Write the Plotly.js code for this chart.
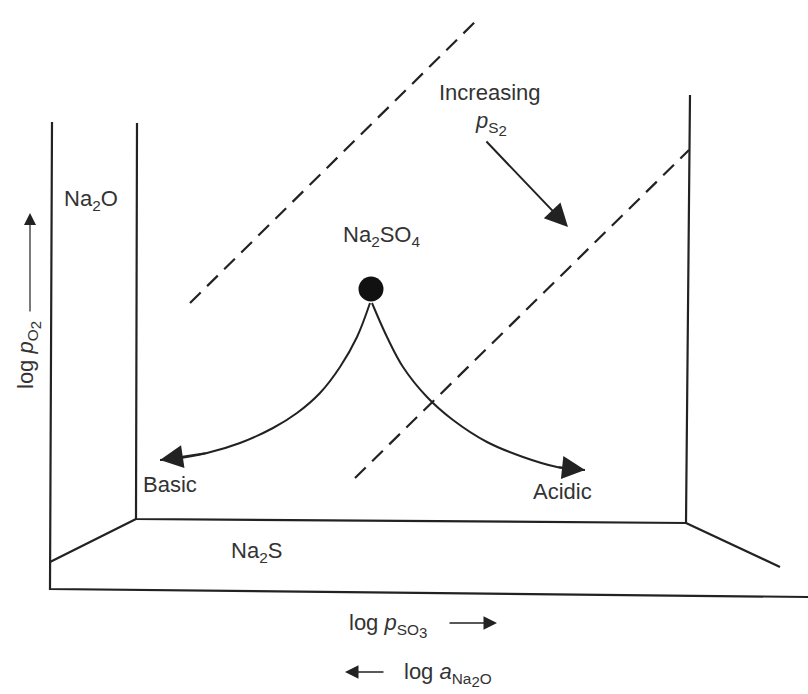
<!DOCTYPE html>
<html>
<head>
<meta charset="utf-8">
<script src="https://cdn.plot.ly/plotly-3.0.1.min.js"></script>
<style>html,body{margin:0;padding:0;background:#fff;}#chart{width:808px;height:694px;}</style>
</head>
<body>
<div id="chart"></div>
<script>
// Diagram geometry (pixel-like units of the figure)
const outerFrameX = [52, 50, 808];
const outerFrameY = [122, 589, 597];
const innerFrameX = [137, 136, 686, 690];
const innerFrameY = [123, 519, 523, 95];
const diagonalsX = [50, 136, null, 686, 780];
const diagonalsY = [562, 519, null, 523, 567];
const dashUpperX = [190, 480];
const dashUpperY = [303, 17];
const dashLowerX = [355, 689];
const dashLowerY = [478, 150];
const dotX = [371];
const dotY = [289];
const basicCurveX = [370, 357, 340, 320, 297, 273, 240, 207, 173, 160];
const basicCurveY = [303, 337, 367, 393, 413, 428, 443, 453, 459, 460];
const acidCurveX = [372, 387, 403, 427, 453, 487, 523, 557, 585];
const acidCurveY = [303, 337, 367, 397, 420, 442, 457, 467, 470];
const ps2ArrowX = [485, 568];
const ps2ArrowY = [140, 227];

const sub2 = '<sub><span style="font-size:15px">2</span></sub>';
const sub3 = '<sub><span style="font-size:15px">3</span></sub>';
const labelTexts = ['Na<sub>2</sub>O', 'Na<sub>2</sub>SO<sub>4</sub>', 'Increasing', '<i>p</i><sub>S' + sub2 + '</sub>',
  'Basic', 'Acidic', 'Na<sub>2</sub>S', 'log <i>p</i><sub>SO' + sub3 + '</sub>', 'log <i>a</i><sub>Na' + sub2 + 'O</sub>'];
const labelX = [91, 381, 490, 491, 170, 562, 256, 388, 448];
const labelY = [200, 236, 92, 123, 484, 491, 552, 625, 674];

const ink = '#222';
const txt = '#333';
const font = {family: 'Liberation Sans, Arial, sans-serif', size: 22, color: txt};

const traces = [
  {x: outerFrameX, y: outerFrameY, mode: 'lines', line: {color: ink, width: 2.2}},
  {x: innerFrameX, y: innerFrameY, mode: 'lines', line: {color: ink, width: 2.2}},
  {x: diagonalsX, y: diagonalsY, mode: 'lines', line: {color: ink, width: 2.2}, connectgaps: false},
  {x: dashUpperX, y: dashUpperY, mode: 'lines', line: {color: ink, width: 2.2, dash: '15px,9px'}},
  {x: dashLowerX, y: dashLowerY, mode: 'lines', line: {color: ink, width: 2.2, dash: '15px,9px'}},
  {x: basicCurveX, y: basicCurveY, mode: 'lines', line: {color: ink, width: 2, shape: 'spline', smoothing: 1}},
  {x: acidCurveX, y: acidCurveY, mode: 'lines', line: {color: ink, width: 2, shape: 'spline', smoothing: 1}},
  {x: dotX, y: dotY, mode: 'markers', marker: {color: '#111', size: 25}}
];

const annotations = labelTexts.map((t, i) => ({
  x: labelX[i], y: labelY[i], xref: 'x', yref: 'y', text: t, showarrow: false,
  font: font, xanchor: 'center', yanchor: 'middle'
}));

// y-axis label
annotations.push({x: 28, y: 355, xref: 'x', yref: 'y', text: 'log <i>p</i><sub>O' + sub2 + '</sub>',
  textangle: -90, showarrow: false, font: font, xanchor: 'center', yanchor: 'middle'});

function arrow(x0, y0, x1, y1, w, s) {
  return {x: x1, y: y1, ax: x0, ay: y0, xref: 'x', yref: 'y', axref: 'x', ayref: 'y',
    text: '', showarrow: true, arrowhead: 2, arrowwidth: w, arrowsize: s, arrowcolor: ink};
}
// curve arrowheads (short tails along curve tangent)
annotations.push(arrow(basicCurveX[7], basicCurveY[7], basicCurveX[9], basicCurveY[9], 2, 2.3));
annotations.push(arrow(acidCurveX[7], acidCurveY[7], acidCurveX[8], acidCurveY[8], 2, 2.3));
// increasing p_S2 arrow
annotations.push(arrow(ps2ArrowX[0], ps2ArrowY[0], ps2ArrowX[1], ps2ArrowY[1], 2, 2.3));
// axis direction arrows
annotations.push(arrow(30, 313, 30, 213, 1.2, 2));
annotations.push(arrow(448, 623, 497, 623, 1.5, 1.8));
annotations.push(arrow(385, 672, 345, 672, 1.5, 1.8));

const layout = {
  width: 808, height: 694,
  margin: {l: 0, r: 0, t: 0, b: 0},
  paper_bgcolor: '#fff', plot_bgcolor: '#fff',
  showlegend: false,
  xaxis: {range: [0, 808], visible: false, fixedrange: true},
  yaxis: {range: [694, 0], visible: false, fixedrange: true},
  annotations: annotations
};

Plotly.newPlot('chart', traces, layout, {staticPlot: true, displayModeBar: false});
</script>
</body>
</html>
